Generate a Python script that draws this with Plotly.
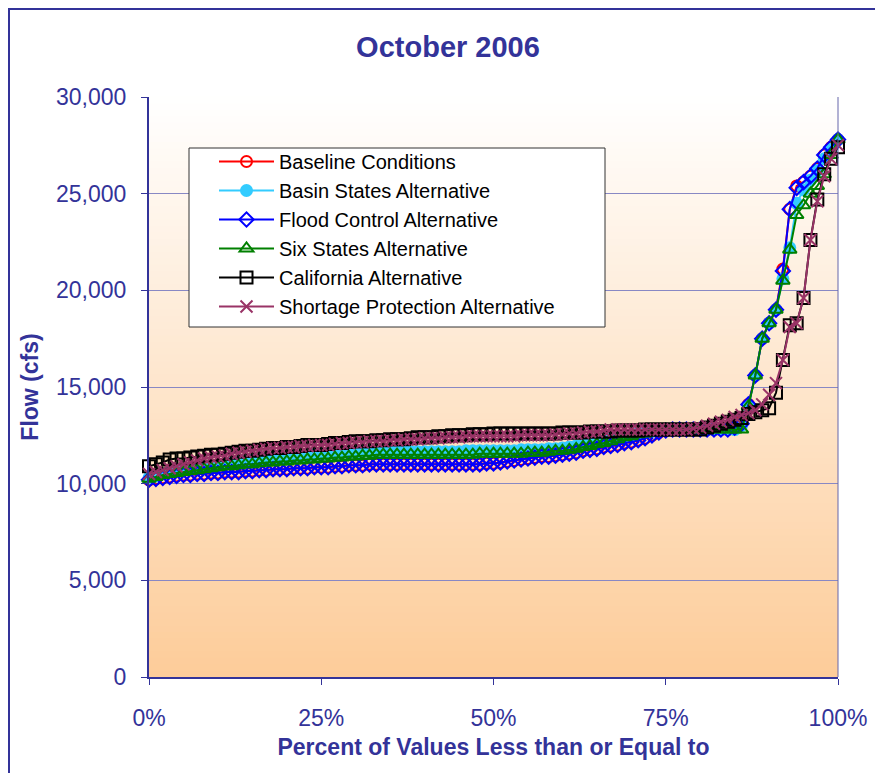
import plotly.graph_objects as go

# ---------------- data ----------------
pct = list(range(0, 101))

baseline = [
    10200, 10250, 10300, 10350, 10400, 10450, 10450, 10500, 10500, 10550,
    10550, 10600, 10600, 10600, 10650, 10650, 10700, 10700, 10750, 10750,
    10750, 10800, 10800, 10800, 10850, 10850, 10850, 10900, 10900, 10950,
    10950, 10950, 11000, 11000, 11000, 11000, 11000, 11000, 11000, 11000,
    11000, 11000, 11000, 11000, 11000, 11000, 11000, 11000, 11000, 11050,
    11050, 11100, 11150, 11200, 11250, 11300, 11350, 11400, 11400, 11450,
    11500, 11550, 11600, 11700, 11750, 11800, 11900, 11950, 12000, 12100,
    12150, 12250, 12350, 12500, 12650, 12750, 12800, 12800, 12800, 12800,
    12800, 12800, 12800, 12800, 12800, 12900, 13200, 14100, 15600, 17500,
    18300, 19000, 21100, 24200, 25400, 25600, 25900, 26300, 27000, 27400, 27800,
]

basin = [
    10300, 10400, 10500, 10600, 10650, 10700, 10750, 10800, 10850, 10900,
    10950, 11000, 11050, 11100, 11150, 11200, 11200, 11250, 11300, 11300,
    11350, 11400, 11400, 11450, 11500, 11500, 11550, 11550, 11600, 11600,
    11600, 11650, 11650, 11650, 11650, 11650, 11650, 11650, 11650, 11650,
    11650, 11650, 11650, 11650, 11650, 11650, 11700, 11700, 11700, 11700,
    11700, 11700, 11700, 11700, 11750, 11750, 11750, 11750, 11800, 11800,
    11850, 11900, 11950, 12000, 12100, 12150, 12200, 12300, 12400, 12450,
    12500, 12600, 12650, 12700, 12750, 12800, 12800, 12800, 12800, 12800,
    12800, 12800, 12800, 12800, 12800, 12800, 13000, 14000, 15600, 17500,
    18300, 19000, 20600, 22200, 24500, 25200, 25700, 26200, 26800, 27300, 27800,
]

flood = [
    10200, 10250, 10300, 10350, 10400, 10450, 10450, 10500, 10500, 10550,
    10550, 10600, 10600, 10600, 10650, 10650, 10700, 10700, 10750, 10750,
    10750, 10800, 10800, 10800, 10850, 10850, 10850, 10900, 10900, 10950,
    10950, 10950, 11000, 11000, 11000, 11000, 11000, 11000, 11000, 11000,
    11000, 11000, 11000, 11000, 11000, 11000, 11000, 11000, 11000, 11050,
    11050, 11100, 11150, 11200, 11250, 11300, 11350, 11400, 11400, 11450,
    11500, 11550, 11600, 11700, 11750, 11800, 11900, 11950, 12000, 12100,
    12150, 12250, 12350, 12500, 12650, 12750, 12800, 12800, 12800, 12800,
    12800, 12800, 12800, 12800, 12800, 12900, 13100, 14100, 15600, 17500,
    18300, 19000, 21000, 24200, 25300, 25600, 25900, 26300, 27000, 27400, 27800,
]

six_states = [
    10250, 10350, 10450, 10500, 10550, 10600, 10650, 10700, 10750, 10800,
    10850, 10900, 10900, 10950, 11000, 11000, 11050, 11100, 11100, 11150,
    11150, 11200, 11200, 11250, 11250, 11300, 11300, 11350, 11350, 11400,
    11400, 11450, 11450, 11500, 11500, 11500, 11500, 11500, 11500, 11500,
    11500, 11500, 11500, 11500, 11500, 11500, 11500, 11500, 11550, 11550,
    11550, 11550, 11550, 11550, 11550, 11600, 11600, 11600, 11650, 11700,
    11700, 11750, 11800, 11900, 11950, 12050, 12100, 12200, 12300, 12400,
    12450, 12550, 12600, 12700, 12750, 12800, 12800, 12800, 12800, 12800,
    12800, 12800, 12800, 12800, 12800, 12800, 12800, 14000, 15600, 17500,
    18300, 19000, 20500, 22100, 23900, 24400, 25000, 25400, 26000, 27000, 27800,
]

california = [
    10900, 11000, 11100, 11250, 11300, 11300, 11350, 11400, 11450, 11500,
    11500, 11550, 11600, 11650, 11700, 11700, 11750, 11800, 11850, 11850,
    11900, 11900, 11950, 12000, 12000, 12000, 12050, 12100, 12100, 12150,
    12200, 12200, 12200, 12250, 12250, 12300, 12300, 12300, 12350, 12400,
    12400, 12400, 12450, 12450, 12500, 12500, 12500, 12550, 12550, 12550,
    12600, 12600, 12600, 12600, 12600, 12600, 12600, 12600, 12600, 12600,
    12650, 12650, 12650, 12650, 12700, 12700, 12700, 12700, 12750, 12750,
    12750, 12750, 12800, 12800, 12800, 12800, 12800, 12800, 12800, 12800,
    12800, 12900, 13000, 13100, 13200, 13300, 13400, 13600, 13700, 13800,
    13900, 14700, 16400, 18200, 18300, 19600, 22600, 24700, 26000, 26800, 27400,
]

shortage = [
    10500, 10600, 10700, 10800, 10900, 11000, 11100, 11200, 11300, 11350,
    11400, 11450, 11550, 11600, 11650, 11700, 11750, 11800, 11850, 11850,
    11900, 11900, 11950, 11950, 12000, 12000, 12000, 12050, 12100, 12100,
    12150, 12150, 12200, 12200, 12200, 12250, 12250, 12300, 12300, 12300,
    12350, 12350, 12350, 12400, 12400, 12400, 12450, 12450, 12450, 12450,
    12450, 12450, 12450, 12450, 12500, 12500, 12500, 12500, 12500, 12550,
    12550, 12600, 12600, 12650, 12700, 12700, 12750, 12800, 12800, 12800,
    12800, 12800, 12800, 12800, 12800, 12800, 12800, 12800, 12800, 12850,
    12900, 13000, 13100, 13200, 13300, 13450, 13550, 13650, 13800, 14100,
    14600, 15200, 16400, 18100, 18300, 19600, 22600, 24600, 25900, 26800, 27500,
]

series_names = [
    "Baseline Conditions",
    "Basin States Alternative",
    "Flood Control Alternative",
    "Six States Alternative",
    "California Alternative",
    "Shortage Protection Alternative",
]
x_tick_vals = [0, 25, 50, 75, 100]
x_tick_text = ["0%", "25%", "50%", "75%", "100%"]
y_tick_vals = [0, 5000, 10000, 15000, 20000, 25000, 30000]

# ---------------- styling ----------------
NAVY = "#333399"
FONT = "Liberation Sans, Arial, sans-serif"
W, H = 875, 765
L, R, T, B = 141, 830, 89, 669   # plot area in figure pixels

styles = [
    dict(color="#FF0000", symbol="circle-open", size=11),
    dict(color="#33CCFF", symbol="circle", size=11),
    dict(color="#0000FF", symbol="diamond-open", size=11),
    dict(color="#008000", symbol="triangle-up-open", size=12),
    dict(color="#000000", symbol="square-open", size=12),
    dict(color="#993366", symbol="x-thin-open", size=12),
]
all_values = [baseline, basin, flood, six_states, california, shortage]

fig = go.Figure()
for i, (name, vals, st) in enumerate(zip(series_names, all_values, styles)):
    fig.add_trace(go.Scatter(
        x=pct, y=vals, name=name, mode="lines+markers",
        line=dict(color=st["color"], width=2),
        marker=dict(symbol=st["symbol"], size=st["size"], color=st["color"],
                    line=dict(color=st["color"], width=2)),
        cliponaxis=False,
    ))

def px_x(p):
    return (p - L) / (R - L)

def px_y(p):
    return (B - p) / (B - T)

shapes = []
# gradient background of plot area (white at top -> peach at bottom)
n = 90
top_c = (255, 255, 255)
bot_c = (253, 204, 153)
for k in range(n):
    f0 = k / n
    f1 = (k + 1) / n
    t = (k + 0.5) / n
    c = tuple(round(bot_c[j] + (top_c[j] - bot_c[j]) * t) for j in range(3))
    shapes.append(dict(type="rect", xref="paper", yref="paper",
                       x0=0, x1=1, y0=f0, y1=f1 + 0.002,
                       fillcolor=f"rgb{c}", line=dict(width=0), layer="below"))
# right edge of plot area
shapes.append(dict(type="line", xref="paper", yref="paper", x0=1, x1=1, y0=0, y1=1,
                   line=dict(color="#6666AA", width=1), layer="above"))
# outer frame
shapes.append(dict(type="rect", xref="paper", yref="paper",
                   x0=px_x(1), y0=px_y(1400), x1=px_x(1400), y1=px_y(1),
                   line=dict(color=NAVY, width=2), fillcolor="rgba(0,0,0,0)", layer="above"))
# legend box
shapes.append(dict(type="rect", xref="paper", yref="paper",
                   x0=px_x(181), x1=px_x(597), y0=px_y(319), y1=px_y(140),
                   line=dict(color="#333333", width=1), fillcolor="white", layer="above"))

fig.update_layout(
    width=W, height=H,
    margin=dict(l=L, r=W - R, t=T, b=H - B, autoexpand=False),
    paper_bgcolor="white",
    plot_bgcolor="rgba(0,0,0,0)",
    font=dict(family=FONT, color=NAVY),
    title=dict(text="<b>October 2006</b>", xref="container", yref="container",
               x=440 / W, y=1 - 39 / H, xanchor="center", yanchor="middle",
               font=dict(size=29, color=NAVY, family=FONT)),
    showlegend=True,
    legend=dict(x=px_x(206), y=px_y(134), xanchor="left", yanchor="top",
                bgcolor="rgba(0,0,0,0)", borderwidth=0,
                font=dict(size=20, color="black", family=FONT),
                itemwidth=55),
    shapes=shapes,
    xaxis=dict(range=[0, 100], tickvals=x_tick_vals, ticktext=x_tick_text,
               showgrid=False, zeroline=False, showline=True,
               linecolor=NAVY, linewidth=2, ticks="outside", ticklen=6,
               tickcolor=NAVY, tickwidth=1, ticklabelstandoff=13,
               tickfont=dict(size=23, color=NAVY, family=FONT),
               title=dict(text="<b>Percent of Values Less than or Equal to</b>",
                          font=dict(size=23, color=NAVY, family=FONT), standoff=9)),
    yaxis=dict(range=[0, 30000], tickvals=y_tick_vals, tickformat=",d",
               showgrid=True, gridcolor="#8888C4", gridwidth=1,
               zeroline=False, showline=True, linecolor=NAVY, linewidth=2,
               ticks="outside", ticklen=6, tickcolor=NAVY, tickwidth=1,
               ticklabelstandoff=10,
               tickfont=dict(size=23, color=NAVY, family=FONT),
               title=dict(text="<b>Flow (cfs)</b>",
                          font=dict(size=23, color=NAVY, family=FONT), standoff=11)),
)

fig.write_html("out.html")
